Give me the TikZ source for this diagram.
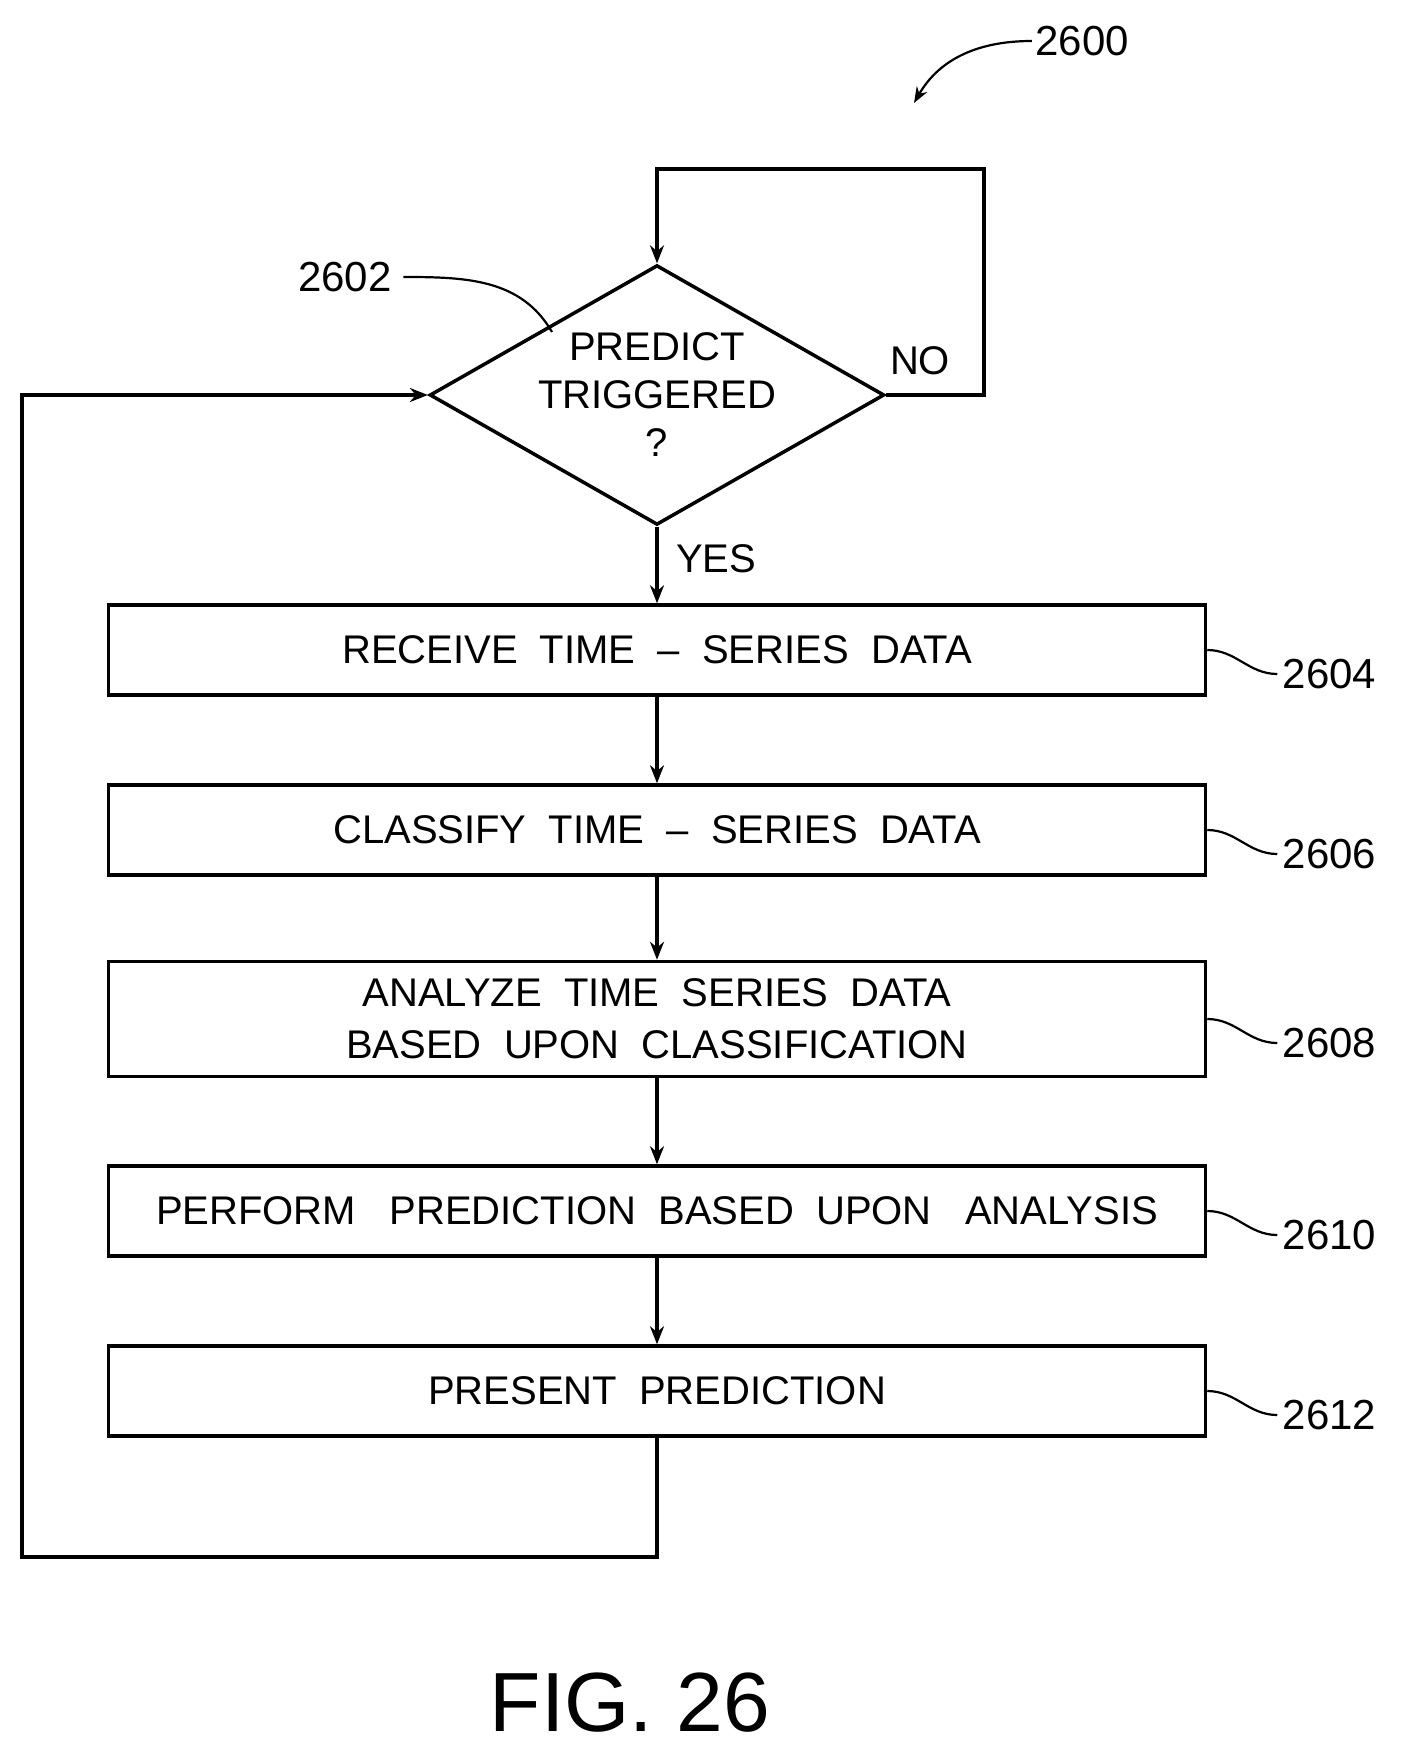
\documentclass[tikz,border=0pt]{standalone}
\usepackage{fontspec}
\setmainfont{Liberation Sans}
\usetikzlibrary{arrows.meta}
\usetikzlibrary{positioning}
\usetikzlibrary{shapes.geometric}

\tikzset{
  procbox/.style={draw, line width=3.5pt, minimum width=1097pt, minimum height=90pt, inner sep=0pt, font=\fontsize{40}{44}\selectfont},
  flow/.style={line width=3.5pt, -{Stealth[length=18pt,width=14pt]}},
  lead/.style={line width=2.2pt},
  refnum/.style={font=\fontsize{42}{46}\selectfont},
}

\begin{document}
\begin{tikzpicture}[x=1pt,y=-1pt]
	\useasboundingbox (0,0) rectangle (1402,1747);

	\node[draw, diamond, aspect=1.75, line width=3.5pt, minimum width=405pt, minimum height=232pt, inner sep=0pt, font=\fontsize{40}{48}\selectfont, align=center] (trig) at (657,395) {PREDICT\\TRIGGERED\\?};

	\node[procbox] (recv) at (657,650) {RECEIVE~~TIME~~--~~SERIES~~DATA};
	\node[procbox] (clas) at (657,830) {CLASSIFY~~TIME~~--~~SERIES~~DATA};
	\node[procbox, minimum height=115pt, align=center, font=\fontsize{40}{52}\selectfont] (anal) at (657,1019) {ANALYZE~~TIME~~SERIES~~DATA\\BASED~~UPON~~CLASSIFICATION};
	\node[procbox] (pred) at (657,1211) {PERFORM~~~PREDICTION~~BASED~~UPON~~~ANALYSIS};
	\node[procbox] (pres) at (657,1391) {PRESENT~~PREDICTION};

	\coordinate (looptop) at (657,169);
	\coordinate (loopright) at (984,169);
	\coordinate (loopbot) at (657,1557);
	\coordinate (loopleft) at (22,1557);

	% the main flow
	\draw[flow] (trig.south) -- (recv.north) node[pos=0.42, right=14pt, font=\fontsize{40}{46}\selectfont] {YES};
	\draw[flow] (recv) -- (clas);
	\draw[flow] (clas) -- (anal);
	\draw[flow] (anal) -- (pred);
	\draw[flow] (pred) -- (pres);

	% loops
	\draw[flow] (trig.east) -| (loopright) -- (looptop) -- (trig.north);
	\node[font=\fontsize{40}{46}\selectfont] at (920,361) {NO};
	\draw[flow] (pres.south) -- (loopbot) -- (loopleft) |- (trig.west);

	% reference numerals
	\foreach \bx/\num in {recv/2604, clas/2606, anal/2608, pred/2610, pres/2612}{
		\node[refnum, anchor=west] (n\num) at ([xshift=72pt,yshift=-24pt]\bx.east) {\num};
		\draw[lead] (\bx.east) to[out=0, in=180] ([xshift=-2pt]n\num.west);
	}
	\node[refnum] (n2602) at (345,277) {2602};
	\draw[lead] ([xshift=8pt]n2602.east) to[out=0, in=120] (552,332);
	\node[refnum] (n2600) at (1082,41) {2600};
	\draw[lead, -{Stealth[length=16pt,width=12pt]}] (n2600.west) to[out=180, in=60] (914,103);

	\node[font=\fontsize{84}{90}\selectfont] (fig) at (630,1703) {FIG. 26};
\end{tikzpicture}
\end{document}
